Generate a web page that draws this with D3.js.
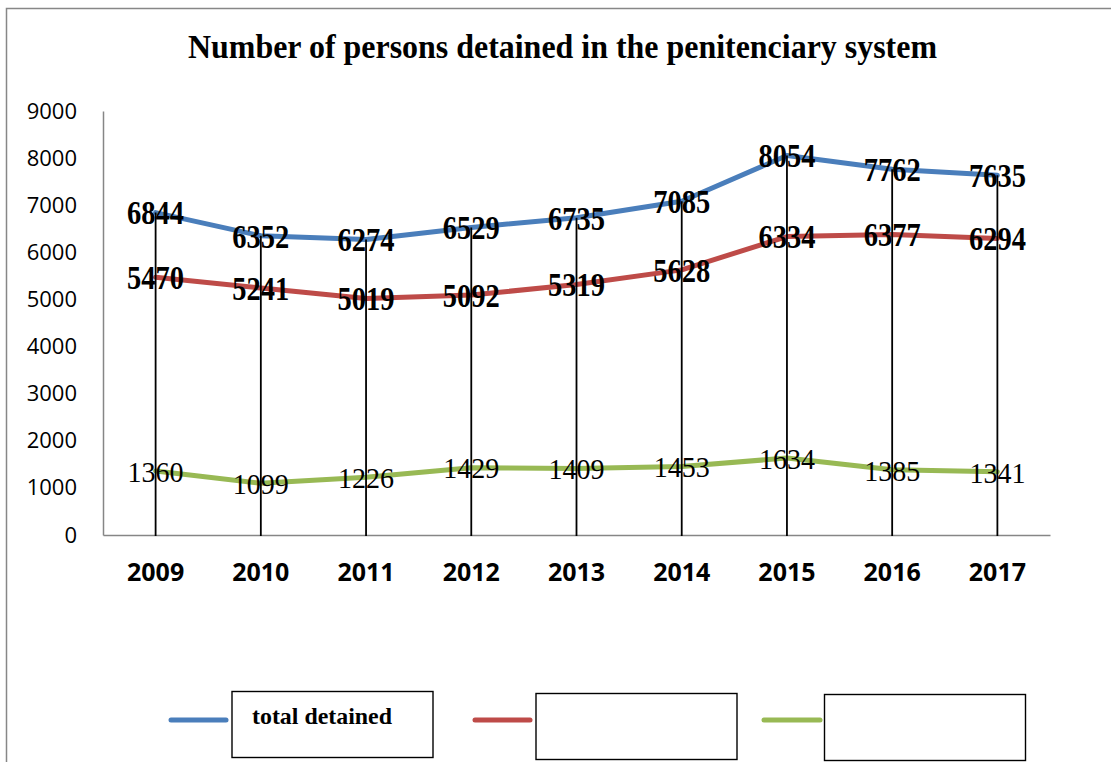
<!DOCTYPE html>
<html lang="en">
	<head>
		<meta charset="utf-8">
		<title>Number of persons detained in the penitenciary system</title>
		<style>
			body { margin: 0; background: #fff; }
			svg { display: block; }
			.tick text { fill: #000; }
		</style>
	</head>
	<body>

		<script src="https://cdn.jsdelivr.net/npm/d3@7"></script>
		<script>
			// Chart size
			var w = 1111;
			var h = 762;

			// DATA
			var years = ["2009", "2010", "2011", "2012", "2013", "2014", "2015", "2016", "2017"];
			var totalDetained = [6844, 6352, 6274, 6529, 6735, 7085, 8054, 7762, 7635];
			var secondSeries = [5470, 5241, 5019, 5092, 5319, 5628, 6334, 6377, 6294];
			var thirdSeries = [1360, 1099, 1226, 1429, 1409, 1453, 1634, 1385, 1341];
			var seriesNames = ["total detained", "", ""];
			var yTicks = [0, 1000, 2000, 3000, 4000, 5000, 6000, 7000, 8000, 9000];

			var series = [
				{ name: seriesNames[0], values: totalDetained, color: "#4a7ebb", bold: true },
				{ name: seriesNames[1], values: secondSeries, color: "#be4b48", bold: true },
				{ name: seriesNames[2], values: thirdSeries, color: "#98b954", bold: false }
			];

			var svg = d3.select("body").append("svg")
				.attr("width", w)
				.attr("height", h);

			// outer chart border (right and bottom fall outside the picture)
			svg.append("rect")
				.attr("x", 6.5).attr("y", 8.5)
				.attr("width", 1120).attr("height", 800)
				.attr("fill", "none")
				.attr("stroke", "#878787")
				.attr("stroke-width", 1.5);

			// title
			svg.append("text")
				.attr("x", 562.5).attr("y", 58)
				.attr("text-anchor", "middle")
				.attr("textLength", 749)
				.attr("lengthAdjust", "spacingAndGlyphs")
				.style("font-family", "'Liberation Serif', 'Times New Roman', serif")
				.style("font-weight", "bold")
				.style("font-size", "33px")
				.text("Number of persons detained in the penitenciary system");

			// SCALES
			var x = d3.scaleBand().domain(years).range([103, 1050]).padding(0);
			var y = d3.scaleLinear().domain([0, 9000]).range([535, 111]);
			var cx = function(d, i) { return x(years[i]) + x.bandwidth() / 2; };

			// AXES
			var yAxis = svg.append("g")
				.attr("transform", "translate(103,0)")
				.call(d3.axisLeft(y).tickValues(yTicks).tickFormat(d3.format("d"))
					.tickSize(0).tickPadding(26));
			yAxis.selectAll("text")
				.style("font-family", "'Open Sans', sans-serif")
				.style("font-size", "22px");

			var xAxis = svg.append("g")
				.attr("transform", "translate(0,535)")
				.call(d3.axisBottom(x).tickSize(0).tickPadding(28));
			xAxis.selectAll("text")
				.style("font-family", "'Open Sans', sans-serif")
				.style("font-weight", "bold")
				.style("font-size", "25px");

			svg.selectAll(".domain")
				.attr("stroke", "#868686")
				.attr("stroke-width", 1.5);

			// LINES
			var line = d3.line()
				.x(cx)
				.y(function(d) { return y(d); });

			svg.selectAll(".series")
				.data(series)
				.enter()
				.append("path")
				.attr("class", "series")
				.attr("d", function(s) { return line(s.values); })
				.attr("fill", "none")
				.attr("stroke", function(s) { return s.color; })
				.attr("stroke-width", 5)
				.attr("stroke-linejoin", "round")
				.attr("stroke-linecap", "round");

			// DATA LABELS
			series.forEach(function(s) {
				svg.append("g").selectAll("text")
					.data(s.values)
					.enter()
					.append("text")
					.attr("x", cx)
					.attr("y", function(d) { return y(d); })
					.attr("dy", "0.36em")
					.attr("text-anchor", "middle")
					.attr("textLength", s.bold ? 57 : 56)
					.attr("lengthAdjust", "spacingAndGlyphs")
					.style("font-family", "'Liberation Serif', 'Times New Roman', serif")
					.style("font-weight", s.bold ? "bold" : "normal")
					.style("font-size", s.bold ? "33px" : "30px")
					.text(function(d) { return d; });
			});

			// drop lines from the top series to the axis
			svg.append("g").selectAll("line")
				.data(totalDetained)
				.enter()
				.append("line")
				.attr("x1", cx).attr("x2", cx)
				.attr("y1", function(d) { return y(d); })
				.attr("y2", y(0) + 1)
				.attr("stroke", "#000")
				.attr("stroke-width", 1.8);

			// LEGEND
			var legend = [
				{ x1: 171, x2: 226, bx: 232, by: 691.5, text: seriesNames[0] },
				{ x1: 475, x2: 530, bx: 536, by: 693.5, text: seriesNames[1] },
				{ x1: 764, x2: 820, bx: 824.5, by: 694.5, text: seriesNames[2] }
			];

			var items = svg.selectAll(".legend")
				.data(legend)
				.enter()
				.append("g")
				.attr("class", "legend");

			items.append("line")
				.attr("x1", function(d) { return d.x1; })
				.attr("x2", function(d) { return d.x2; })
				.attr("y1", 720).attr("y2", 720)
				.attr("stroke", function(d, i) { return series[i].color; })
				.attr("stroke-width", 5)
				.attr("stroke-linecap", "round");

			items.append("rect")
				.attr("x", function(d) { return d.bx; })
				.attr("y", function(d) { return d.by; })
				.attr("width", 201)
				.attr("height", 66)
				.attr("fill", "#fff")
				.attr("stroke", "#000")
				.attr("stroke-width", 1.4);

			items.filter(function(d) { return d.text; })
				.append("text")
				.attr("x", 252).attr("y", 724)
				.attr("textLength", 140)
				.attr("lengthAdjust", "spacingAndGlyphs")
				.style("font-family", "'Liberation Serif', 'Times New Roman', serif")
				.style("font-weight", "bold")
				.style("font-size", "24px")
				.text(function(d) { return d.text; });
		</script>
</body>
</html>
